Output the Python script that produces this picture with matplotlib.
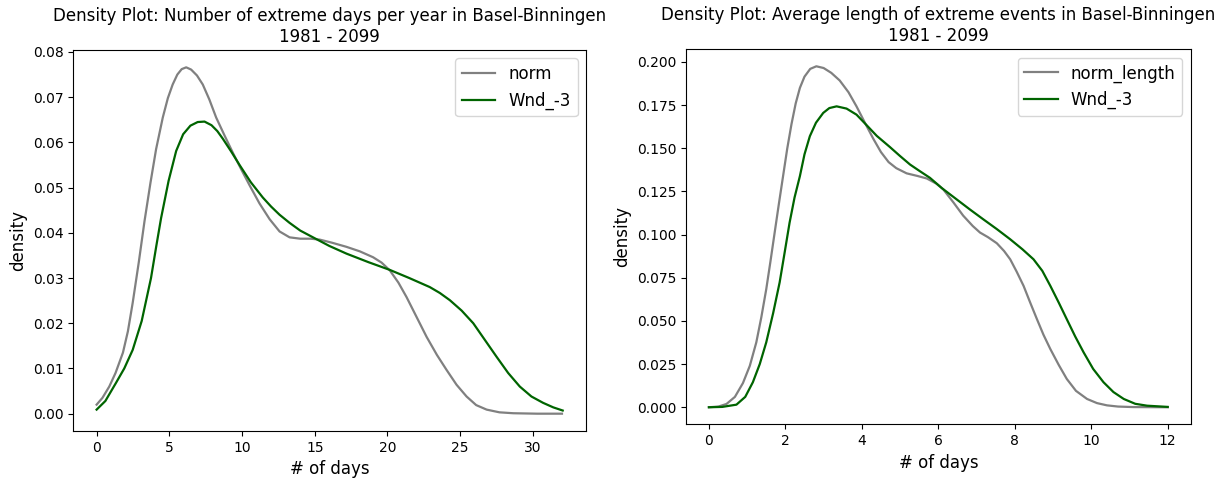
import matplotlib
matplotlib.use('Agg')
import matplotlib.pyplot as plt

station = 'Basel-Binningen'
period = '1981 - 2099'

# left panel: number of extreme days per year
days_norm = [0.0, 0.4, 0.87, 1.3, 1.81, 2.15, 2.48, 2.9, 3.29, 3.7, 4.09,
             4.55, 4.9, 5.23, 5.55, 5.85, 6.16, 6.5, 6.9, 7.3, 7.75, 8.22,
             8.8, 9.37, 9.95, 10.52, 11.2, 11.9, 12.58, 13.27, 14.0, 14.7,
             15.34, 16.2, 17.18, 18.1, 19.01, 19.6, 20.16, 20.75, 21.31, 22.0,
             22.69, 23.4, 24.06, 24.75, 25.44, 26.1, 26.82, 27.7, 28.65, 30.3,
             32.0]
dens_norm = [0.0020, 0.0035, 0.0060, 0.0090, 0.0135, 0.0182, 0.0245, 0.0335,
             0.0425, 0.0510, 0.0585, 0.0655, 0.0698, 0.0728, 0.0750, 0.0762,
             0.0766, 0.0761, 0.0748, 0.0728, 0.0695, 0.0655, 0.0615, 0.0577,
             0.0540, 0.0505, 0.0465, 0.0430, 0.0403, 0.0390, 0.0387, 0.0387,
             0.0385, 0.0378, 0.0369, 0.0359, 0.0346, 0.0334, 0.0317, 0.0290,
             0.0258, 0.0214, 0.0170, 0.0130, 0.0097, 0.0064, 0.0038, 0.0019,
             0.0009, 0.0003, 0.0001, 0.0, 0.0]

days_wnd = [0.0, 0.6, 1.33, 1.9, 2.48, 3.1, 3.74, 4.1, 4.43, 4.95, 5.47, 5.95,
            6.45, 6.95, 7.42, 7.9, 8.3, 8.68, 9.25, 9.83, 10.6, 11.43, 12.0,
            12.58, 13.27, 14.0, 14.88, 16.0, 17.18, 18.7, 20.16, 21.5, 22.91,
            23.6, 24.29, 25.1, 25.9, 26.7, 27.5, 28.3, 29.1, 29.9, 30.7, 31.4,
            32.05]
dens_wnd = [0.0009, 0.0028, 0.0068, 0.0100, 0.0141, 0.0205, 0.0300, 0.0370,
            0.0432, 0.0515, 0.0581, 0.0618, 0.0637, 0.0645, 0.0646, 0.0638,
            0.0625, 0.0608, 0.0580, 0.0550, 0.0512, 0.0478, 0.0458, 0.0440,
            0.0422, 0.0405, 0.0390, 0.0371, 0.0354, 0.0335, 0.0318, 0.0300,
            0.0280, 0.0267, 0.0251, 0.0228, 0.0200, 0.0163, 0.0126, 0.0090,
            0.0060, 0.0038, 0.0024, 0.0014, 0.0007]

# right panel: average length of extreme events
len_norm = [0.0, 0.25, 0.46, 0.68, 0.89, 1.07, 1.24, 1.37, 1.5, 1.61, 1.72,
            1.83, 1.94, 2.05, 2.16, 2.27, 2.38, 2.5, 2.65, 2.81, 3.0, 3.2,
            3.42, 3.65, 3.86, 4.08, 4.3, 4.5, 4.7, 4.9, 5.17, 5.45, 5.7, 5.95,
            6.13, 6.4, 6.65, 6.9, 7.09, 7.3, 7.53, 7.72, 7.88, 8.05, 8.23, 8.4,
            8.58, 8.75, 8.93, 9.15, 9.36, 9.6, 9.89, 10.15, 10.41, 10.7, 11.1,
            12.0]
ldens_norm = [0.0, 0.0004, 0.0019, 0.0060, 0.0140, 0.0240, 0.0376, 0.0520,
              0.0684, 0.0845, 0.1012, 0.1178, 0.1339, 0.1500, 0.1640, 0.1760,
              0.1850, 0.1915, 0.1960, 0.1975, 0.1965, 0.1937, 0.1893, 0.1825,
              0.1743, 0.1648, 0.1555, 0.1478, 0.1420, 0.1385, 0.1355, 0.1340,
              0.1325, 0.1295, 0.1262, 0.1185, 0.1110, 0.1050, 0.1012, 0.0985,
              0.0950, 0.0905, 0.0857, 0.0785, 0.0703, 0.0608, 0.0510, 0.0420,
              0.0337, 0.0245, 0.0164, 0.0095, 0.0048, 0.0024, 0.0011, 0.0004,
              0.0001, 0.0]

len_wnd = [0.0, 0.35, 0.72, 0.95, 1.15, 1.33, 1.5, 1.68, 1.85, 1.98, 2.11,
           2.24, 2.38, 2.5, 2.64, 2.8, 2.99, 3.15, 3.34, 3.6, 3.86, 4.12, 4.39,
           4.73, 5.0, 5.26, 5.5, 5.78, 6.1, 6.48, 6.83, 7.18, 7.53, 7.88, 8.2,
           8.49, 8.72, 8.93, 9.15, 9.36, 9.58, 9.8, 10.05, 10.32, 10.58, 10.85,
           11.15, 11.46, 12.0]
ldens_wnd = [0.0, 0.0002, 0.0015, 0.0060, 0.0145, 0.0250, 0.0376, 0.0545,
             0.0723, 0.0895, 0.1069, 0.1215, 0.1339, 0.1465, 0.1570, 0.1648,
             0.1705, 0.1733, 0.1743, 0.1730, 0.1695, 0.1635, 0.1572, 0.1508,
             0.1455, 0.1406, 0.1370, 0.1329, 0.1268, 0.1204, 0.1145, 0.1088,
             0.1032, 0.0973, 0.0915, 0.0857, 0.0790, 0.0703, 0.0606, 0.0510,
             0.0410, 0.0318, 0.0222, 0.0145, 0.0088, 0.0048, 0.0020, 0.0009,
             0.0002]

fig = plt.figure(figsize=(12.28, 4.79), dpi=100)
ax1 = fig.add_axes([0.0597, 0.1002, 0.4175, 0.7954])
ax2 = fig.add_axes([0.5586, 0.1142, 0.4110, 0.7830])

ax1.plot(days_norm, dens_norm, color='grey', lw=1.6, label='norm')
ax1.plot(days_wnd, dens_wnd, color='darkgreen', lw=1.6, label='Wnd_-3')
ax1.set_title('Density Plot: Number of extreme days per year in %s\n%s'
              % (station, period), fontsize=12)
ax1.set_xlabel('# of days', fontsize=12)
ax1.set_ylabel('density', fontsize=12)
ax1.legend(loc='upper right', fontsize=12)

ax2.plot(len_norm, ldens_norm, color='grey', lw=1.6, label='norm_length')
ax2.plot(len_wnd, ldens_wnd, color='darkgreen', lw=1.6, label='Wnd_-3')
ax2.set_title('Density Plot: Average length of extreme events in %s\n%s'
              % (station, period), fontsize=12)
ax2.set_xlabel('# of days', fontsize=12)
ax2.set_ylabel('density', fontsize=12)
ax2.legend(loc='upper right', fontsize=12)

plt.savefig('out.png', dpi=100)
